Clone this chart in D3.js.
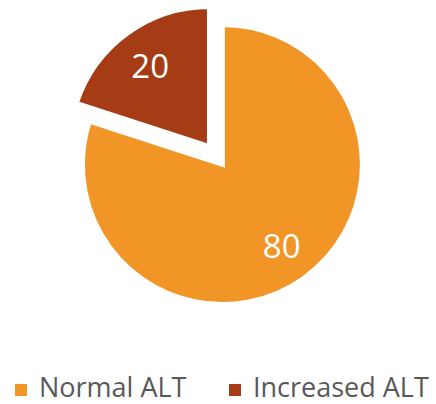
<!DOCTYPE html>
<html>
<head>
<meta charset="utf-8">
<script src="https://cdn.jsdelivr.net/npm/d3@7"></script>
<style>
  html, body { margin: 0; padding: 0; background: #fff; }
  svg { display: block; }
</style>
</head>
<body>
<svg id="chart" width="436" height="404"></svg>
<script>
// ALT status split (percent)
const categories = ["Normal ALT", "Increased ALT"];
const values = [80, 20];
const colors = ["#F29527", "#A63C15"];
const explode = [0, 22]; // outward offset of each slice, px

const svg = d3.select("#chart");
const cx = 222.4, cy = 164.4, R = 140;

const pie = d3.pie().sort(null).value(d => d)(values);
const arc = d3.arc().innerRadius(0).outerRadius(R);
const labelArc = d3.arc().innerRadius(R * 0.72).outerRadius(R * 0.72);

const slices = svg.append("g").attr("transform", `translate(${cx},${cy})`)
  .selectAll("g").data(pie).join("g")
  .attr("transform", (d, i) => {
    const a = (d.startAngle + d.endAngle) / 2;
    return `translate(${Math.sin(a) * explode[i]},${-Math.cos(a) * explode[i]})`;
  });

slices.append("path")
  .attr("d", arc)
  .attr("fill", (d, i) => colors[i])
  .attr("stroke", "#fff")
  .attr("stroke-width", 5)
  .attr("stroke-linejoin", "miter");

slices.append("text")
  .attr("transform", d => `translate(${labelArc.centroid(d)})`)
  .attr("text-anchor", "middle")
  .attr("dominant-baseline", "central")
  .attr("fill", "#fff")
  .attr("font-family", "'Open Sans', sans-serif")
  .attr("font-size", 33)
  .text(d => d.data);

// Legend
const legendX = [15, 229];
const legend = svg.append("g").selectAll("g").data(categories).join("g")
  .attr("transform", (d, i) => `translate(${legendX[i]},384)`);

legend.append("rect")
  .attr("width", 12).attr("height", 12)
  .attr("fill", (d, i) => colors[i]);

legend.append("text")
  .attr("x", 24).attr("y", 13)
  .attr("fill", "#595959")
  .attr("font-family", "'Open Sans', sans-serif")
  .attr("font-size", 27)
  .text(d => d);
</script>
</body>
</html>
